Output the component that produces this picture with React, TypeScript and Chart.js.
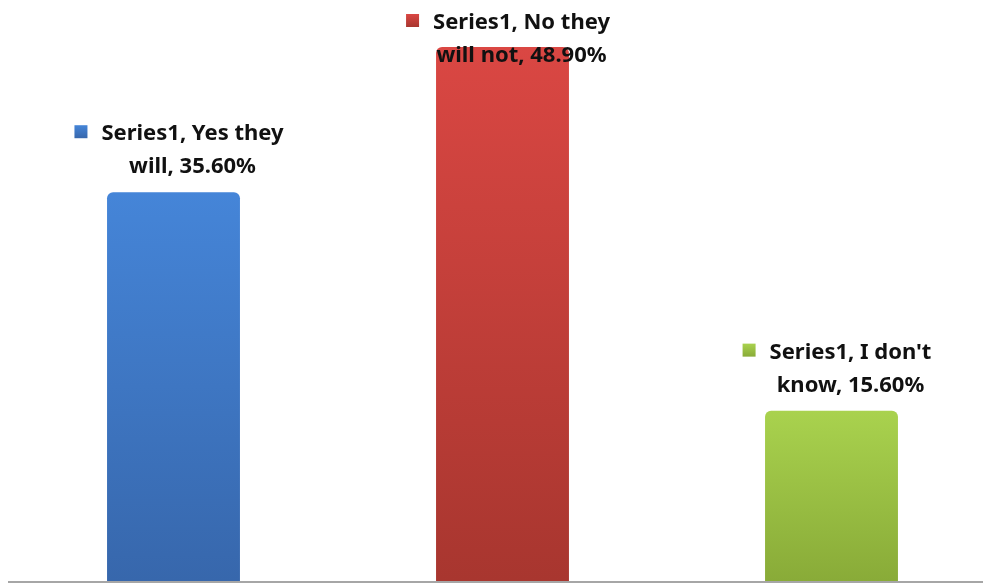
import React, { useEffect, useRef } from "react";
import { Chart, registerables } from "chart.js";

Chart.register(...registerables);

const categories = ["Yes they will", "No they will not", "I don't know"];
const seriesName = "Series1";
const values = [35.6, 48.9, 15.6];
const labelLine1 = ["Series1, Yes they", "Series1, No they", "Series1, I don't"];
const labelLine2 = ["will, 35.60%", "will not, 48.90%", "know, 15.60%"];
const topColors = ["#4585D8", "#DA4743", "#A9D24E"];
const bottomColors = ["#3767AC", "#A8362F", "#89AB38"];

const labelPlugin = {
  id: "excelLabels",
  afterDatasetsDraw(chart: any) {
    const ctx = chart.ctx;
    const meta = chart.getDatasetMeta(0);
    const yScale = chart.scales.y;
    const base = yScale.getPixelForValue(0);
    // axis line
    ctx.save();
    ctx.strokeStyle = "#A6A6A6";
    ctx.lineWidth = 2;
    ctx.beginPath();
    ctx.moveTo(8, base + 1);
    ctx.lineTo(chart.width, base + 1);
    ctx.stroke();
    ctx.restore();

    ctx.save();
    ctx.font = "bold 22px 'Noto Sans'";
    ctx.fillStyle = "#111111";
    ctx.textAlign = "center";
    ctx.textBaseline = "alphabetic";
    meta.data.forEach((bar: any, i: number) => {
      const cx = bar.x + 19;
      let b2 = bar.y - 19;
      let b1 = b2 - 33;
      if (b1 < 29) {
        b1 = 29;
        b2 = 62;
      }
      ctx.fillText(labelLine1[i], cx, b1);
      ctx.fillText(labelLine2[i], cx, b2);
      const w = ctx.measureText(labelLine1[i]).width;
      const mx = cx - w / 2 - 27;
      const my = b1 - 15;
      const g = ctx.createLinearGradient(0, my, 0, my + 13);
      g.addColorStop(0, topColors[i]);
      g.addColorStop(1, bottomColors[i]);
      ctx.fillStyle = g;
      ctx.fillRect(mx, my, 13, 13);
      ctx.fillStyle = "#111111";
    });
    ctx.restore();
  },
};

export default function App() {
  const ref = useRef<HTMLCanvasElement>(null);
  useEffect(() => {
    if (!ref.current) return;
    const chart = new Chart(ref.current, {
      type: "bar",
      data: {
        labels: categories,
        datasets: [
          {
            label: seriesName,
            data: values,
            backgroundColor: (c: any) => {
              const chart = c.chart;
              const area = chart.chartArea;
              if (!area || c.dataIndex === undefined) return topColors[c.dataIndex || 0];
              const y = chart.scales.y;
              const top = y.getPixelForValue(values[c.dataIndex]);
              const bot = y.getPixelForValue(0);
              const g = chart.ctx.createLinearGradient(0, top, 0, bot);
              g.addColorStop(0, topColors[c.dataIndex]);
              g.addColorStop(1, bottomColors[c.dataIndex]);
              return g;
            },
            borderWidth: 0,
            borderRadius: { topLeft: 6, topRight: 6, bottomLeft: 0, bottomRight: 0 },
            borderSkipped: "bottom",
            barPercentage: 0.404,
            categoryPercentage: 1,
          },
        ],
      },
      options: {
        animation: false,
        responsive: true,
        maintainAspectRatio: false,
        layout: { padding: { left: 9, right: 4, top: 0, bottom: 2 } },
        plugins: { legend: { display: false }, tooltip: { enabled: false } },
        scales: {
          x: { display: false },
          y: { display: false, min: 0, max: 53.2 },
        },
      },
      plugins: [labelPlugin],
    });
    return () => chart.destroy();
  }, []);
  return (
    <div
      style={{
        position: "fixed",
        left: 0,
        top: 0,
        width: 983,
        height: 583,
        overflow: "hidden",
        background: "#ffffff",
      }}
    >
      <div style={{ position: "relative", width: 1000, height: 583 }}>
        <canvas ref={ref} />
      </div>
    </div>
  );
}
